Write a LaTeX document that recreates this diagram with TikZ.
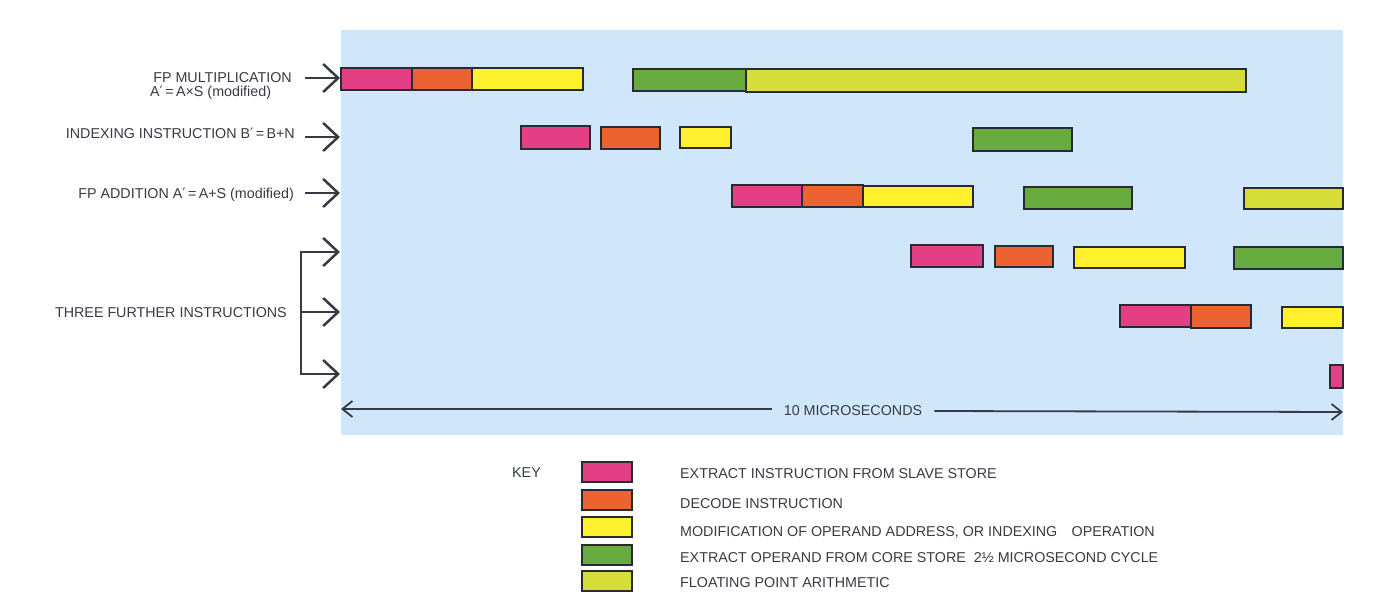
\documentclass[tikz,border=0pt]{standalone}
\usepackage{fontspec}
\setmainfont{Liberation Sans}
\usetikzlibrary{arrows.meta}
\definecolor{bg}{RGB}{208,230,250}
\definecolor{cpink}{RGB}{228,62,132}
\definecolor{corange}{RGB}{236,98,48}
\definecolor{cyellow}{RGB}{255,240,45}
\definecolor{cgreen}{RGB}{104,172,64}
\definecolor{colive}{RGB}{214,220,56}
\definecolor{ink}{RGB}{55,58,68}
\definecolor{edge}{RGB}{40,42,52}
\tikzset{
  barbase/.style={draw=edge,line width=1.8pt},
  pinkbar/.style={barbase,fill=cpink},
  orangebar/.style={barbase,fill=corange},
  yellowbar/.style={barbase,fill=cyellow},
  greenbar/.style={barbase,fill=cgreen},
  olivebar/.style={barbase,fill=colive},
  lbl/.style={text=ink,font=\fontsize{14.3}{16}\selectfont,inner sep=0pt},
  bigarrow/.style={draw=ink,line width=2.5pt,-{Straight Barb[length=15pt,width=28pt,line width=2.5pt]}},
  timearrow/.style={draw=ink,line width=1.8pt,-{Straight Barb[length=10pt,width=16pt,line width=1.8pt]}},
  swatch/.style={barbase,minimum width=50pt,minimum height=20pt,inner sep=0pt}
}
\newcommand{\pr}{{\fontspec{DejaVu Sans}\char"2032}}
\begin{document}
\begin{tikzpicture}[x=1pt,y=-1pt]
\useasboundingbox (0,0) rectangle (1386,610);
\fill[white] (0,0) rectangle (1386,610);
\fill[bg] (341,30) rectangle (1343,435);

% row 1
\draw[pinkbar] (341,68) rectangle (412,90);
\draw[orangebar] (412,68) rectangle (472,90);
\draw[yellowbar] (472,68) rectangle (583,90);
\draw[greenbar] (633,69) rectangle (746,91);
\draw[olivebar] (746,69) rectangle (1246,92);
% row 2
\draw[pinkbar] (521,126) rectangle (590,149);
\draw[orangebar] (601,127) rectangle (660,149);
\draw[yellowbar] (680,127) rectangle (731,148);
\draw[greenbar] (973,128) rectangle (1072,151);
% row 3
\draw[pinkbar] (732,185) rectangle (802,207);
\draw[orangebar] (802,185) rectangle (863,207);
\draw[yellowbar] (863,186) rectangle (973,207);
\draw[greenbar] (1024,187) rectangle (1132,209);
\draw[olivebar] (1244,188) rectangle (1343,209);
% row 4
\draw[pinkbar] (911,245) rectangle (983,267);
\draw[orangebar] (995,246) rectangle (1053,267);
\draw[yellowbar] (1074,247) rectangle (1185,268);
\draw[greenbar] (1234,247) rectangle (1343,269);
% row 5
\draw[pinkbar] (1120,305) rectangle (1191,327);
\draw[orangebar] (1191,305) rectangle (1251,328);
\draw[yellowbar] (1282,307) rectangle (1343,328);
% row 6
\draw[pinkbar] (1330,365) rectangle (1343,388);

% left labels
\node[lbl,anchor=base east] (l1) at (292,82) {FP MULTIPLICATION};
\node[lbl,anchor=base west] (l1b) at (150,96) {A\pr\,=\,A\texttimes S (modified)};
\node[lbl,anchor=base east] (l2) at (295,138) {INDEXING INSTRUCTION B\pr\,=\,B+N};
\node[lbl,anchor=base east] (l3) at (294,198) {FP ADDITION A\pr\,=\,A+S (modified)};
\node[lbl,anchor=base east] (l4) at (287,317) {THREE FURTHER INSTRUCTIONS};

% arrows
\coordinate (a1s) at (305,78); \coordinate (a1e) at (340,78);
\coordinate (a2s) at (305,137); \coordinate (a2e) at (340,137);
\coordinate (a3s) at (305,193); \coordinate (a3e) at (340,193);
\draw[bigarrow] (a1s) -- (a1e);
\draw[bigarrow] (a2s) -- (a2e);
\draw[bigarrow] (a3s) -- (a3e);
\coordinate (bt) at (301,252); \coordinate (bm) at (301,312); \coordinate (bb) at (301,374);
\coordinate (e4) at (340,252); \coordinate (e5) at (340,312); \coordinate (e6) at (340,374);
\draw[draw=ink,line width=2.4pt] (bt) -- (bb);
\draw[bigarrow] ([xshift=-1.2pt]bt) -- (e4);
\draw[bigarrow] (bm) -- (e5);
\draw[bigarrow] ([xshift=-1.2pt]bb) -- (e6);

% time axis
\node[lbl,anchor=base] (tm) at (853,415) {10 MICROSECONDS};
\coordinate (tl) at (341,409); \coordinate (tr) at (1343,412);
\draw[timearrow] ([xshift=-12pt]tm.west |- 0,409) -- (tl);
\draw[timearrow] ([xshift=12pt]tm.east |- 0,411) -- (tr);

% key
\node[lbl,anchor=base west] (key) at (512,477) {KEY};
\node[swatch,fill=cpink] (k1) at (607,472) {};
\node[swatch,fill=corange] (k2) at (607,500) {};
\node[swatch,fill=cyellow] (k3) at (607,527) {};
\node[swatch,fill=cgreen] (k4) at (607,555) {};
\node[swatch,fill=colive] (k5) at (607,581) {};
\node[lbl,anchor=base west] (t1) at (680,478) {EXTRACT INSTRUCTION FROM SLAVE STORE};
\node[lbl,anchor=base west] (t2) at (680,508) {DECODE INSTRUCTION};
\node[lbl,anchor=base west] (t3) at (680,536) {MODIFICATION OF OPERAND ADDRESS, OR INDEXING\quad OPERATION};
\node[lbl,anchor=base west] (t4) at (680,562) {EXTRACT OPERAND FROM CORE STORE\ \ 2½ MICROSECOND CYCLE};
\node[lbl,anchor=base west] (t5) at (680,587) {FLOATING POINT ARITHMETIC};
\end{tikzpicture}
\end{document}
